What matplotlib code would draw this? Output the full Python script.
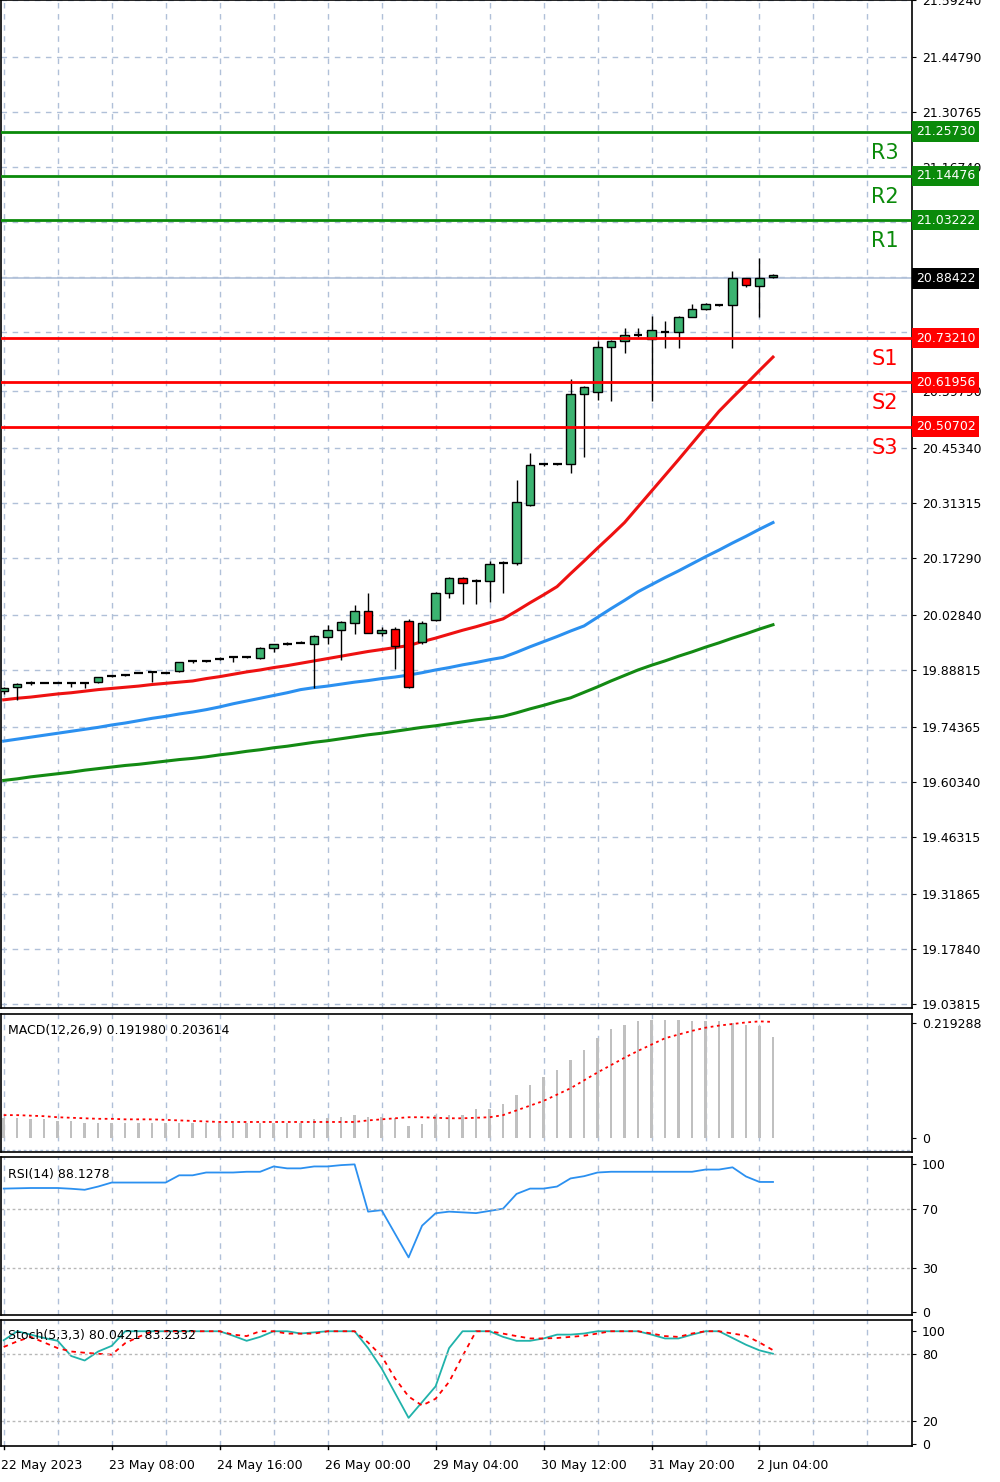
import matplotlib
matplotlib.use("Agg")
import matplotlib.pyplot as plt
import matplotlib.transforms as mtransforms
import numpy as np

opens = [19.835,19.845,19.855,19.855,19.855,19.855,19.855,19.857,19.872,19.875,19.880,19.882,19.882,19.885,19.910,19.912,19.917,19.920,19.922,19.918,
         19.945,19.955,19.957,19.953,19.973,19.990,20.008,20.038,19.983,19.993,20.013,19.960,20.015,20.083,20.123,20.115,20.115,20.160,20.160,20.308,
         20.411,20.411,20.411,20.589,20.594,20.709,20.724,20.739,20.729,20.749,20.747,20.787,20.807,20.817,20.817,20.884,20.864,20.887]
highs = [19.845,19.855,19.860,19.856,19.856,19.858,19.856,19.871,19.875,19.877,19.881,19.885,19.883,19.909,19.913,19.913,19.921,19.921,19.923,19.946,
         19.955,19.958,19.961,19.976,20.003,20.012,20.053,20.083,19.997,19.997,20.017,20.013,20.087,20.125,20.125,20.120,20.165,20.165,20.371,20.441,
         20.414,20.412,20.629,20.611,20.724,20.727,20.759,20.759,20.789,20.777,20.789,20.819,20.821,20.819,20.904,20.886,20.937,20.895]
lows = [19.828,19.812,19.850,19.854,19.854,19.845,19.843,19.856,19.869,19.873,19.879,19.857,19.879,19.883,19.906,19.909,19.914,19.907,19.919,19.916,
        19.933,19.952,19.956,19.843,19.955,19.913,19.980,19.982,19.975,19.890,19.843,19.955,20.012,20.070,20.055,20.055,20.060,20.083,20.155,20.306,
        20.408,20.409,20.389,20.431,20.574,20.571,20.694,20.734,20.571,20.707,20.707,20.785,20.805,20.815,20.707,20.862,20.787,20.884]
closes = [19.842,19.852,19.855,19.855,19.855,19.855,19.855,19.870,19.872,19.875,19.880,19.882,19.881,19.908,19.910,19.912,19.917,19.920,19.922,19.945,
          19.953,19.955,19.957,19.975,19.990,20.010,20.038,19.983,19.990,19.948,19.845,20.008,20.085,20.123,20.110,20.115,20.158,20.160,20.316,20.409,
          20.411,20.411,20.589,20.609,20.709,20.724,20.739,20.739,20.754,20.749,20.787,20.807,20.819,20.817,20.884,20.867,20.884,20.894]

ma_red = [19.812,19.816,19.819,19.823,19.827,19.830,19.834,19.838,19.841,19.844,19.847,19.851,19.854,19.857,19.860,
          19.866,19.871,19.877,19.883,19.888,19.894,19.899,19.905,19.911,19.917,19.923,19.929,19.935,19.940,19.945,19.950,
          19.960,19.969,19.979,19.989,19.998,20.008,20.018,20.038,20.059,20.079,20.100,20.133,20.165,20.198,20.230,20.263,
          20.303,20.343,20.383,20.423,20.464,20.505,20.546,20.581,20.615,20.650,20.684]
ma_blue = [19.707,19.712,19.717,19.722,19.727,19.732,19.737,19.742,19.748,19.753,19.759,19.765,19.770,19.776,19.781,19.787,
           19.794,19.802,19.809,19.816,19.823,19.830,19.838,19.843,19.847,19.852,19.857,19.861,19.866,19.870,19.875,
           19.881,19.888,19.894,19.901,19.907,19.914,19.920,19.933,19.947,19.960,19.973,19.987,20.000,
           20.022,20.044,20.065,20.087,20.105,20.123,20.140,20.158,20.176,20.193,20.211,20.228,20.246,20.263]
ma_green = [19.607,19.611,19.616,19.620,19.624,19.628,19.633,19.637,19.641,19.645,19.648,19.652,19.656,19.660,19.663,19.667,
            19.672,19.676,19.681,19.685,19.690,19.694,19.699,19.704,19.708,19.713,19.718,19.723,19.727,19.732,19.737,
            19.742,19.746,19.751,19.756,19.761,19.765,19.770,19.779,19.789,19.798,19.808,19.817,
            19.831,19.845,19.860,19.874,19.888,19.900,19.911,19.923,19.934,19.946,19.957,19.969,19.980,19.992,20.003]

macd_hist = [0.038,0.038,0.036,0.036,0.033,0.033,0.030,0.030,0.030,0.030,0.030,0.030,0.030,0.030,0.030,0.030,0.030,0.030,0.030,0.030,
             0.030,0.030,0.030,0.036,0.038,0.041,0.044,0.041,0.041,0.038,0.024,0.027,0.044,0.044,0.044,0.056,0.056,0.065,0.083,0.102,
             0.116,0.130,0.149,0.168,0.190,0.208,0.216,0.222,0.225,0.225,0.225,0.222,0.222,0.222,0.219,0.216,0.213,0.192]
macd_signal = [0.044,0.044,0.043,0.042,0.040,0.039,0.038,0.037,0.037,0.036,0.036,0.036,0.035,0.034,0.033,0.032,0.031,0.031,
               0.031,0.031,0.031,0.031,0.031,0.031,0.031,0.031,0.031,0.034,0.036,0.038,0.040,0.040,0.039,0.038,0.038,0.039,0.040,0.044,
               0.053,0.062,0.071,0.083,0.095,0.110,0.125,0.139,0.153,0.166,0.178,0.190,0.197,0.204,0.210,0.214,0.217,0.220,0.222,0.221]
rsi = [83.6,83.8,84,84,84,83.5,82.8,85,87.7,87.7,87.7,87.7,87.7,92.6,92.6,94.5,94.5,94.5,95,95,98.6,97.3,97.3,98.6,98.6,99.5,100,
       68,69,53,37,58.5,66.9,68,67.5,67,68.5,70,80,83.6,83.6,85,90.5,92,94.5,95,95,95,95,95,95,95,96.5,96.5,98,91.8,88.1,88.1]
stoch_main = [92,100,97,94,91.5,78,74,82,87,100,100,100,100,100,100,100,100,96,91.5,95,100,100,98,99,100,100,100,85,67,45,23,37,51,85,
              100,100,100,95,91.5,91.5,93.6,97,97,98,100,100,100,100,97,93.6,93.6,97,100,100,94,88,83,80]
stoch_signal = [86,91,95,90,85,82,80.9,80,79.2,89.4,95,100,100,100,100,100,100,97,95.7,100,100,97.9,97.9,97.9,100,100,100,90,78,58,42,34,40,55,
                78,100,100,97.9,95.7,93.6,93.6,94,95,96,98,100,100,100,98,95.7,95,98,100,100,98,96,90,83.2]

levels_r = [21.25730, 21.14476, 21.03222]
labels_r = ["R3", "R2", "R1"]
levels_s = [20.73210, 20.61956, 20.50702]
labels_s = ["S1", "S2", "S3"]
current_price = 20.88422
price_ticks = [21.59240,21.44790,21.30765,21.16740,21.02715,20.88690,20.74665,20.59790,20.45340,20.31315,20.17290,
               20.02840,19.88815,19.74365,19.60340,19.46315,19.31865,19.17840,19.03815]
hidden_ticks = [21.02715, 20.88690, 20.74665]
date_labels = ["22 May 2023","23 May 08:00","24 May 16:00","26 May 00:00","29 May 04:00","30 May 12:00","31 May 20:00","2 Jun 04:00"]

W, H = 1000, 1482
fig = plt.figure(figsize=(W/100, H/100), dpi=100)
plt.rcParams['font.family'] = ['DejaVu Sans']

def add_ax(l, t, r, b):
    return fig.add_axes([l/W, 1-b/H, (r-l)/W, (b-t)/H])

n = len(closes)
x = np.arange(n)
XL = (-0.2, 67.3)
grid_c = '#b0c0d8'

ax = add_ax(1, 0, 912, 1008)
ax_m = add_ax(1, 1014, 912, 1152)
ax_r = add_ax(1, 1157, 912, 1315)
ax_s = add_ax(1, 1320, 912, 1446)

for a in (ax, ax_m, ax_r, ax_s):
    a.set_xlim(*XL)
    for sp in a.spines.values():
        sp.set_color('black'); sp.set_linewidth(1.2)
    a.set_xticks(np.arange(0, 68, 4))
    a.tick_params(axis='x', length=0, labelbottom=False)
    a.grid(axis='x', color=grid_c, linestyle=(0, (4, 4)), linewidth=1)
    a.yaxis.tick_right()
    a.tick_params(axis='y', labelsize=9, length=3, pad=4)
    a.set_axisbelow(True)

# main chart
ax.set_ylim(19.028, 21.5907)
ax.set_yticks(price_ticks)
ax.set_yticklabels(["" if v in hidden_ticks else f"{v:.5f}" for v in price_ticks])
ax.grid(axis='y', color=grid_c, linestyle=(0, (4, 4)), linewidth=1)

ax.plot(x, ma_green, color='#138a13', lw=2.2, zorder=2)
ax.plot(x, ma_blue, color='#2b90f0', lw=2.2, zorder=2)
ax.plot(x, ma_red, color='#ee1111', lw=2.2, zorder=2)

for i in range(n):
    o, h, l, c = opens[i], highs[i], lows[i], closes[i]
    ax.vlines(i, l, h, color='black', lw=1.0, zorder=3)
    lo, hi = min(o, c), max(o, c)
    col = '#3cb371' if c >= o else '#ff0000'
    if hi - lo < 0.002:
        ax.hlines((o + c) / 2, i - 0.33, i + 0.33, color='black', lw=1.6, zorder=4)
    else:
        ax.bar(i, hi - lo, bottom=lo, width=0.62, color=col, edgecolor='black', lw=1.0, zorder=4)

tr = mtransforms.blended_transform_factory(ax.transAxes, ax.transData)
ax.axhline(current_price, color='#b0c0d8', lw=1.2, zorder=1)

def price_box(lv, fc):
    ax.text(1.004, lv, f"{lv:.5f}", color='white', fontsize=9, va='center', ha='left', transform=tr, clip_on=False,
            bbox=dict(boxstyle='square,pad=0.3', fc=fc, ec='none'), zorder=10)

for lv, lb in zip(levels_r, labels_r):
    ax.axhline(lv, color='#0a8a0a', lw=2, zorder=5)
    ax.text(0.985, lv - 0.028, lb, color='#0a8a0a', fontsize=15, ha='right', va='top', transform=tr, zorder=6)
    price_box(lv, '#0a8a0a')
for lv, lb in zip(levels_s, labels_s):
    ax.axhline(lv, color='#ff0000', lw=2, zorder=5)
    ax.text(0.985, lv - 0.028, lb, color='#ff0000', fontsize=15, ha='right', va='top', transform=tr, zorder=6)
    price_box(lv, '#ff0000')
price_box(current_price, 'black')

# MACD
ax_m.set_ylim(-0.026, 0.236)
ax_m.bar(x, macd_hist, width=0.18, color='#c0c0c0', zorder=2)
ax_m.plot(x, macd_signal, color='#ff0000', lw=1.3, linestyle=(0, (1.5, 2)), zorder=3)
ax_m.axhline(-0.022, color=grid_c, lw=1, linestyle=(0, (2, 2)))
ax_m.set_yticks([0, 0.219288]); ax_m.set_yticklabels(['0', '0.219288'])
ax_m.text(0.008, 0.93, "MACD(12,26,9) 0.191980 0.203614", transform=ax_m.transAxes, fontsize=9, va='top')

# RSI
ax_r.set_ylim(-2, 105)
ax_r.plot(x, rsi, color='#2b90f0', lw=1.3)
for lv in (70, 30):
    ax_r.axhline(lv, color='#b8b8b8', lw=1, linestyle=(0, (2, 2)))
ax_r.set_yticks([100, 70, 30, 0])
ax_r.text(0.008, 0.93, "RSI(14) 88.1278", transform=ax_r.transAxes, fontsize=9, va='top')

# Stoch
ax_s.set_ylim(-2, 110)
ax_s.plot(x, stoch_main, color='#20b2aa', lw=1.3)
ax_s.plot(x, stoch_signal, color='#ff0000', lw=1.3, linestyle=(0, (2.5, 2.5)))
for lv in (80, 20):
    ax_s.axhline(lv, color='#b8b8b8', lw=1, linestyle=(0, (2, 2)))
ax_s.set_yticks([100, 80, 20, 0])
ax_s.text(0.008, 0.93, "Stoch(5,3,3) 80.0421 83.2332", transform=ax_s.transAxes, fontsize=9, va='top')

# dates
for k, lbl in enumerate(date_labels):
    xi = k * 8
    ax_s.text(xi - 0.2, -0.1, lbl, transform=mtransforms.blended_transform_factory(ax_s.transData, ax_s.transAxes),
              fontsize=9, ha='left', va='top')
    ax_s.plot([xi, xi], [-2, -4.5], color='black', lw=1, clip_on=False)

fig.savefig("out.png", dpi=100, facecolor='white')
